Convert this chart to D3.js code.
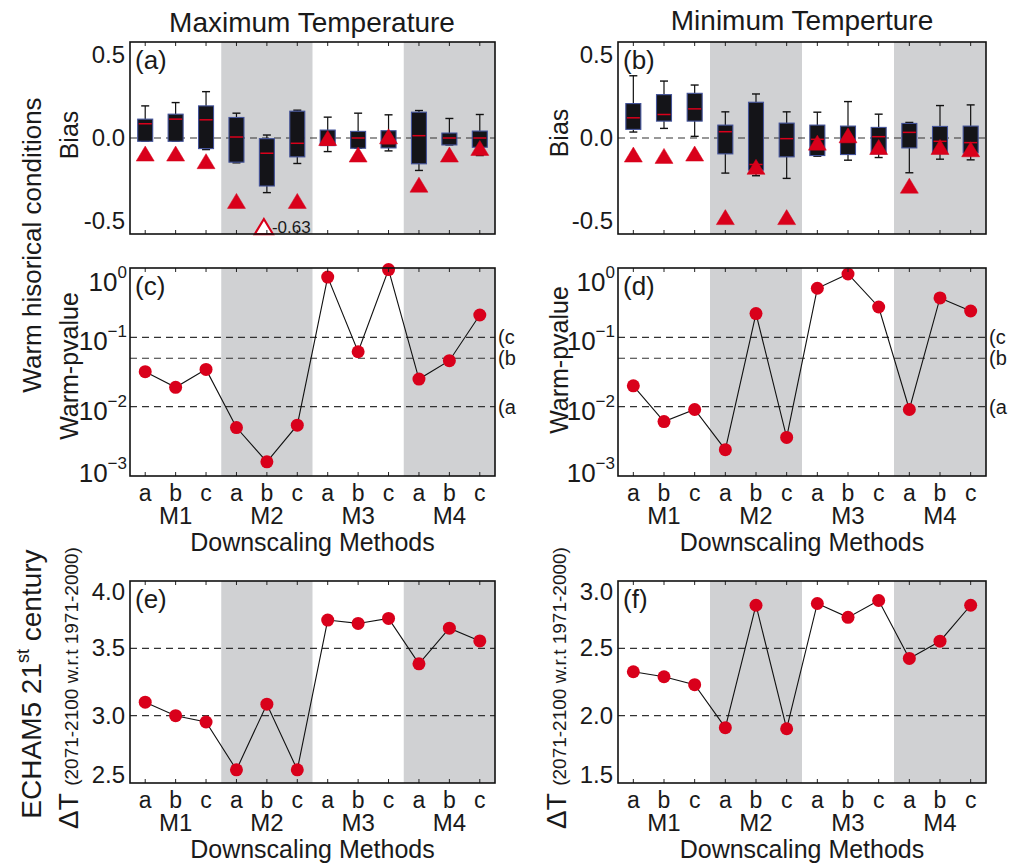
<!DOCTYPE html>
<html>
<head>
<meta charset="utf-8">
<script src="https://cdn.jsdelivr.net/npm/d3@7"></script>
<style>
  body { margin: 0; background: #fff; }
  text { font-family: "Liberation Sans", Arial, Helvetica, sans-serif; fill: #1a1a1a; }
</style>
</head>
<body>
<svg id="fig" width="1011" height="867"></svg>
<script>
// ---- data ----
const cats = ["a", "b", "c", "a", "b", "c", "a", "b", "c", "a", "b", "c"];
const groups = ["M1", "M2", "M3", "M4"];

// box stats per method: [lowWhisker, q1, median, q3, highWhisker]
const biasMaxBox = [
  [-0.02, -0.02, 0.086, 0.114, 0.194],
  [-0.02, -0.02, 0.114, 0.144, 0.214],
  [-0.07, -0.064, 0.11, 0.194, 0.28],
  [-0.15, -0.146, 0.006, 0.124, 0.15],
  [-0.33, -0.29, -0.092, -0.004, 0.018],
  [-0.154, -0.114, -0.032, 0.162, 0.168],
  [-0.082, -0.046, -0.042, 0.048, 0.126],
  [-0.062, -0.062, 0.0, 0.04, 0.15],
  [-0.078, -0.06, -0.034, 0.044, 0.14],
  [-0.196, -0.156, 0.014, 0.156, 0.166],
  [-0.042, -0.042, 0.0, 0.03, 0.118],
  [-0.106, -0.056, 0.0, 0.042, 0.142]
];
const biasMaxObs = [-0.094, -0.094, -0.14, -0.38, -0.63, -0.38, 0.0, -0.1, 0.01, -0.282, -0.1, -0.06];

const biasMinBox = [
  [0.036, 0.052, 0.122, 0.208, 0.376],
  [0.058, 0.102, 0.142, 0.262, 0.344],
  [0.01, 0.102, 0.176, 0.27, 0.32],
  [-0.212, -0.096, 0.038, 0.078, 0.158],
  [-0.228, -0.194, -0.16, 0.216, 0.266],
  [-0.244, -0.114, -0.004, 0.09, 0.158],
  [-0.11, -0.106, -0.008, 0.078, 0.156],
  [-0.134, -0.1, -0.022, 0.072, 0.22],
  [-0.118, -0.096, 0.008, 0.064, 0.144],
  [-0.21, -0.06, 0.034, 0.088, 0.094],
  [-0.128, -0.094, -0.02, 0.07, 0.196],
  [-0.132, -0.09, -0.028, 0.072, 0.2]
];
const biasMinObs = [-0.1, -0.108, -0.094, -0.478, -0.174, -0.478, -0.028, 0.016, -0.054, -0.288, -0.054, -0.068];

const pMax = [0.032, 0.019, 0.0345, 0.005, 0.0016, 0.0054, 0.74, 0.062, 0.95, 0.025, 0.046, 0.21];
const pMin = [0.02, 0.0061, 0.0091, 0.0024, 0.22, 0.0036, 0.51, 0.82, 0.274, 0.0091, 0.37, 0.24];
const sigLevels = [0.01, 0.05, 0.1];
const sigNames = ["(a", "(b", "(c"];

const dTMax = [3.1, 3.0, 2.953, 2.598, 3.085, 2.598, 3.71, 3.685, 3.722, 3.385, 3.65, 3.555];
const dTMin = [2.326, 2.289, 2.23, 1.911, 2.82, 1.903, 2.833, 2.73, 2.855, 2.425, 2.553, 2.82];

const biasTicks = [-0.5, 0, 0.5];
const pTicks = [1e-3, 1e-2, 1e-1, 1];
const dTMaxTicks = [2.5, 3.0, 3.5, 4.0];
const dTMinTicks = [1.5, 2.0, 2.5, 3.0];

// ---- layout ----
const svg = d3.select("#fig");
const red = "#d9001b";
const shade = "#d0d1d3";
const cols = [[130, 495], [618, 986]];
const rows = [[42, 234], [268, 476], [581, 783]];
const fmt1 = v => v.toFixed(1);   // plain hyphen like the original

function xScale(c) {
  return d3.scaleBand().domain(d3.range(12)).range(cols[c]).padding(0);
}

function frame(c, r, x) {
  const [y0, y1] = rows[r];
  const g = svg.append("g");
  // shaded M2 and M4 columns
  [1, 3].forEach(k => {
    g.append("rect")
      .attr("x", x(3 * k)).attr("y", y0)
      .attr("width", x.bandwidth() * 3).attr("height", y1 - y0)
      .attr("fill", shade);
  });
  return g;
}

function finish(g, c, r, x, label) {
  const [x0, x1] = cols[c], [y0, y1] = rows[r];
  // inward ticks
  d3.range(12).forEach(i => {
    const cx = x(i) + x.bandwidth() / 2;
    g.append("line").attr("x1", cx).attr("x2", cx).attr("y1", y1).attr("y2", y1 - 4)
      .attr("stroke", "#222").attr("stroke-width", 1);
    g.append("line").attr("x1", cx).attr("x2", cx).attr("y1", y0).attr("y2", y0 + 4)
      .attr("stroke", "#222").attr("stroke-width", 1);
  });
  g.append("rect").attr("x", x0).attr("y", y0).attr("width", x1 - x0).attr("height", y1 - y0)
    .attr("fill", "none").attr("stroke", "#111").attr("stroke-width", 1.6);
  g.append("text").attr("x", x0 + 5).attr("y", y0 + 27)
    .attr("font-size", 26).text(label);
}

function yLabels(g, c, r, y, ticks) {
  const [y0, y1] = rows[r];
  ticks.forEach(t => {
    const ty = Math.min(Math.max(y(t), y0 + 11), y1 - 8);
    g.append("text").attr("x", cols[c][0] - 5).attr("y", ty + 8)
      .attr("text-anchor", "end").attr("font-size", 24).text(fmt1(t));
  });
}

function hDash(g, c, y, v) {
  g.append("line").attr("x1", cols[c][0]).attr("x2", cols[c][1])
    .attr("y1", y(v)).attr("y2", y(v))
    .attr("stroke", "#333").attr("stroke-width", 1.1).attr("stroke-dasharray", "7,5");
}

function catLabels(c, r, x) {
  const y1 = rows[r][1];
  const g = svg.append("g");
  cats.forEach((t, i) => {
    g.append("text").attr("x", x(i) + x.bandwidth() / 2).attr("y", y1 + 25)
      .attr("text-anchor", "middle").attr("font-size", 23).text(t);
  });
  groups.forEach((t, k) => {
    g.append("text").attr("x", x(3 * k + 1) + x.bandwidth() / 2).attr("y", y1 + 48)
      .attr("text-anchor", "middle").attr("font-size", 24).text(t);
  });
  g.append("text").attr("x", (cols[c][0] + cols[c][1]) / 2).attr("y", y1 + 75)
    .attr("text-anchor", "middle").attr("font-size", 25).text("Downscaling Methods");
}

function tri(g, cx, cy, filled) {
  const w = 18, h = 15;
  g.append("path")
    .attr("d", `M${cx - w / 2},${cy + h / 2}L${cx + w / 2},${cy + h / 2}L${cx},${cy - h / 2}Z`)
    .attr("fill", filled ? red : "#fff").attr("stroke", red)
    .attr("stroke-width", filled ? 0.5 : 2.2);
}

// ---- bias box panels ----
function biasPanel(c, boxes, obs, label) {
  const x = xScale(c);
  const [y0, y1] = rows[0];
  const y = d3.scaleLinear().domain([-0.58, 0.58]).range([y1, y0]);
  const g = frame(c, 0, x);
  hDash(g, c, y, 0);
  const bw = 15, cap = 8;
  boxes.forEach((b, i) => {
    const cx = x(i) + x.bandwidth() / 2;
    const [lo, q1, med, q3, hi] = b;
    g.append("line").attr("x1", cx).attr("x2", cx).attr("y1", y(hi)).attr("y2", y(q3))
      .attr("stroke", "#111").attr("stroke-width", 1.2);
    g.append("line").attr("x1", cx).attr("x2", cx).attr("y1", y(q1)).attr("y2", y(lo))
      .attr("stroke", "#111").attr("stroke-width", 1.2);
    [lo, hi].forEach(v => g.append("line")
      .attr("x1", cx - cap / 2).attr("x2", cx + cap / 2).attr("y1", y(v)).attr("y2", y(v))
      .attr("stroke", "#111").attr("stroke-width", 1.4));
    g.append("rect").attr("x", cx - bw / 2).attr("y", y(q3))
      .attr("width", bw).attr("height", Math.max(1, y(q1) - y(q3)))
      .attr("fill", "#141418").attr("stroke", "#43539a").attr("stroke-width", 1.1);
    g.append("line").attr("x1", cx - bw / 2 + 1).attr("x2", cx + bw / 2 - 1)
      .attr("y1", y(med)).attr("y2", y(med))
      .attr("stroke", red).attr("stroke-width", 1.5);
  });
  const lowLimit = y.domain()[0] + 0.045;
  obs.forEach((v, i) => {
    const cx = x(i) + x.bandwidth() / 2;
    if (v < lowLimit) {
      // off-scale value: open triangle at the bottom edge with its value
      tri(g, cx - 3, y(lowLimit), false);
      g.append("text").attr("x", cx + 5).attr("y", y(lowLimit) + 6)
        .attr("font-size", 17).text(v.toFixed(2));
    } else {
      tri(g, cx, y(v), true);
    }
  });
  yLabels(g, c, 0, y, biasTicks);
  finish(g, c, 0, x, label);
}

// ---- p-value panels ----
function pPanel(c, vals, label) {
  const x = xScale(c);
  const [y0, y1] = rows[1];
  const y = d3.scaleLog().domain([1e-3, 1]).range([y1, y0]);
  const g = frame(c, 1, x);
  sigLevels.forEach((s, j) => {
    hDash(g, c, y, s);
    g.append("text").attr("x", cols[c][1] + 3).attr("y", y(s) + 7)
      .attr("font-size", 20).text(sigNames[j]);
  });
  const line = d3.line().x((d, i) => x(i) + x.bandwidth() / 2).y(d => y(d));
  g.append("path").datum(vals).attr("d", line).attr("fill", "none")
    .attr("stroke", "#111").attr("stroke-width", 1.1);
  g.selectAll(null).data(vals).enter().append("circle")
    .attr("cx", (d, i) => x(i) + x.bandwidth() / 2).attr("cy", d => y(d))
    .attr("r", 6.5).attr("fill", red);
  pTicks.forEach(t => {
    const ty = Math.min(Math.max(y(t), y0 + 10), y1 - 7);
    const e = Math.round(Math.log10(t));
    const tx = g.append("text").attr("x", cols[c][0] - 3).attr("y", ty + 13)
      .attr("text-anchor", "end").attr("font-size", 26);
    tx.append("tspan").text("10");
    tx.append("tspan").attr("dy", -13).attr("font-size", 17)
      .text(e === 0 ? "0" : "\u2212" + Math.abs(e));
  });
  finish(g, c, 1, x, label);
  catLabels(c, 1, x);
}

// ---- delta T panels ----
function dtPanel(c, vals, ticks, label) {
  const x = xScale(c);
  const [y0, y1] = rows[2];
  const y = d3.scaleLinear().domain(d3.extent(ticks)).range([y1, y0]);
  const g = frame(c, 2, x);
  [ticks[1], ticks[2]].forEach(v => hDash(g, c, y, v));
  const line = d3.line().x((d, i) => x(i) + x.bandwidth() / 2).y(d => y(d));
  g.append("path").datum(vals).attr("d", line).attr("fill", "none")
    .attr("stroke", "#111").attr("stroke-width", 1.1);
  g.selectAll(null).data(vals).enter().append("circle")
    .attr("cx", (d, i) => x(i) + x.bandwidth() / 2).attr("cy", d => y(d))
    .attr("r", 6.5).attr("fill", red);
  yLabels(g, c, 2, y, ticks);
  finish(g, c, 2, x, label);
  catLabels(c, 2, x);
}

biasPanel(0, biasMaxBox, biasMaxObs, "(a)");
biasPanel(1, biasMinBox, biasMinObs, "(b)");
pPanel(0, pMax, "(c)");
pPanel(1, pMin, "(d)");
dtPanel(0, dTMax, dTMaxTicks, "(e)");
dtPanel(1, dTMin, dTMinTicks, "(f)");

// ---- titles and side labels ----
svg.append("text").attr("x", 312).attr("y", 32).attr("text-anchor", "middle")
  .attr("font-size", 28).text("Maximum Temperature");
svg.append("text").attr("x", 802).attr("y", 30).attr("text-anchor", "middle")
  .attr("font-size", 28).text("Minimum Temperture");

function vText(x, y, size, txt) {
  return svg.append("text").attr("transform", `translate(${x},${y}) rotate(-90)`)
    .attr("text-anchor", "middle").attr("font-size", size).text(txt);
}
vText(41, 245, 26, "Warm hisorical conditions");
vText(78, 135, 25, "Bias");
vText(568, 133, 25, "Bias");
vText(78, 366, 25, "Warm-pvalue");
vText(568, 360, 25, "Warm-pvalue");

const ech = svg.append("text").attr("transform", "translate(41,684) rotate(-90)")
  .attr("text-anchor", "middle").attr("font-size", 28);
ech.append("tspan").text("ECHAM5  21");
ech.append("tspan").attr("dy", -12).attr("font-size", 18).text("st");
ech.append("tspan").attr("dy", 12).text(" century");

[78, 566].forEach(bx => {
  const t = svg.append("text").attr("transform", `translate(${bx},688) rotate(-90)`)
    .attr("text-anchor", "middle").attr("font-size", 28);
  t.append("tspan").text("\u0394T ");
  t.append("tspan").attr("font-size", 19).text("(2071-2100 w.r.t 1971-2000)");
});
</script>
</body>
</html>
